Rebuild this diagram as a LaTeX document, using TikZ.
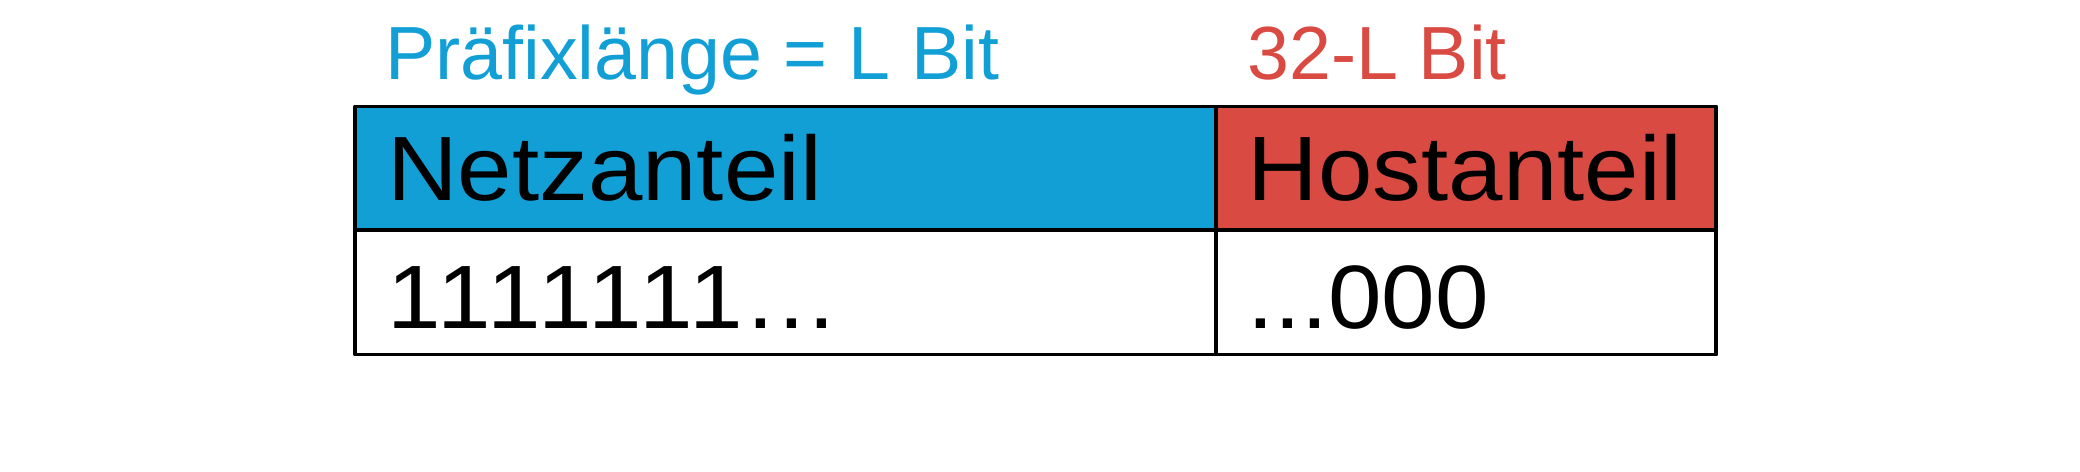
\documentclass[tikz,border=0pt]{standalone}
\usepackage{fontspec}
\setmainfont{Liberation Sans}
\newfontfamily\cellfont[FakeStretch=1.07]{Liberation Sans}
\newfontfamily\onesfont[FakeStretch=1.07, LetterSpace=4.5]{Liberation Sans}
\usetikzlibrary{positioning}
\definecolor{netblue}{RGB}{18,159,214}
\definecolor{hostred}{RGB}{217,74,67}

\begin{document}
\begin{tikzpicture}[x=0.025cm, y=-0.025cm, line join=round]
	\tikzset{
		cell/.style={draw=black, line width=2.7pt, rectangle, inner xsep=0.8cm, inner ysep=0pt, outer sep=0pt, align=left},
		netcell/.style={cell, minimum width=21.5125cm, text width=19.9125cm},
		hostcell/.style={cell, minimum width=12.5125cm, text width=10.9125cm},
		toprow/.style={minimum height=3.0875cm, font=\cellfont\fontsize{65}{70}\selectfont},
		bitrow/.style={minimum height=3.1125cm, text height=52pt, text depth=0pt, font=\cellfont\fontsize{64}{70}\selectfont},
		headlabel/.style={anchor=base west, inner sep=0pt, font=\fontsize{53.6}{60}\selectfont}
	}
	\useasboundingbox (0,0) rectangle (2080,472);
	% table
	\node[netcell, toprow, fill=netblue, anchor=north west] (net) at (355,106.5) {Netzanteil};
	\node[hostcell, toprow, fill=hostred, right=0pt of net] (host) {Hostanteil};
	\node[netcell, bitrow, below=0pt of net, font=\onesfont\fontsize{64}{70}\selectfont] (netbits) {1111111...};
	\node[hostcell, bitrow, below=0pt of host] (hostbits) {...000};
	% lengths above
	\node[headlabel, text=netblue] (prefix) at (385,80) {Präfixlänge = L Bit};
	\node[headlabel, text=hostred] (hostlen) at (1247,80) {32-L Bit};
\end{tikzpicture}
\end{document}
